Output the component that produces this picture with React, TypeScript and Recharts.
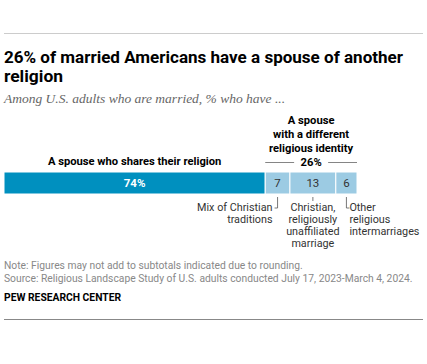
import React from 'react';
import { BarChart, Bar, XAxis, YAxis, LabelList, ReferenceArea } from 'recharts';

// ---- data ----
const categories = ['Married U.S. adults'];
const sameReligion = [74];
const mixChristian = [7];
const christianUnaffiliated = [13];
const otherReligious = [6];
const differentTotal = [26];

const headerSame = 'A spouse who shares their religion';
const headerDifferent = ['A spouse', 'with a different', 'religious identity'];
const labelMix = ['Mix of Christian', 'traditions'];
const labelUnaff = ['Christian,', 'religiously', 'unaffiliated', 'marriage'];
const labelOther = ['Other', 'religious', 'intermarriages'];

const data = categories.map((c, i) => ({
  category: c,
  same: sameReligion[i],
  mix: mixChristian[i],
  unaff: christianUnaffiliated[i],
  other: otherReligious[i],
}));

const DARK = '#0090bf';
const LIGHT = '#9ccbe3';
const FONT = "Roboto, 'Liberation Sans', Arial, sans-serif";
const TXT = '#333';
const HFS = 11.2;
const NFS = 10.8;

const num = (v: any) => Number(v);

const SameLabel = (props: any) => {
  const { x, y, width, height, value } = props;
  const cx = num(x) + num(width) / 2;
  return (
    <g>
      <text x={cx} y={num(y) - 7} textAnchor="middle" fontFamily={FONT} fontWeight={700} fontSize={HFS} fill="#000">
        {headerSame}
      </text>
      <text x={cx} y={num(y) + num(height) / 2 + 4} textAnchor="middle" fontFamily={FONT} fontWeight={700} fontSize={11.5} fill="#fff">
        {value}%
      </text>
    </g>
  );
};

const ValueLabel = (props: any) => {
  const { x, y, width, height, value } = props;
  return (
    <text x={num(x) + num(width) / 2} y={num(y) + num(height) / 2 + 4} textAnchor="middle" fontFamily={FONT} fontSize={11.5} fill={TXT}>
      {value}
    </text>
  );
};

const MixNote = (props: any) => {
  const { x, y, width, height } = props;
  const cx = num(x) + num(width) / 2;
  const b = num(y) + num(height);
  return (
    <g>
      <path d={`M${cx},${b + 3} L${cx},${b + 14} L${cx - 3},${b + 14}`} stroke="#555" strokeWidth={0.8} fill="none" />
      {labelMix.map((t, i) => (
        <text key={i} x={cx - 5} y={b + 17 + i * 12} textAnchor="end" fontFamily={FONT} fontSize={NFS} fill={TXT}>{t}</text>
      ))}
    </g>
  );
};

const UnaffNote = (props: any) => {
  const { x, y, width, height } = props;
  const cx = num(x) + num(width) / 2;
  const b = num(y) + num(height);
  return (
    <g>
      <path d={`M${cx},${b + 3} L${cx},${b + 7}`} stroke="#555" strokeWidth={0.8} fill="none" />
      {labelUnaff.map((t, i) => (
        <text key={i} x={cx} y={b + 17 + i * 12} textAnchor="middle" fontFamily={FONT} fontSize={NFS} fill={TXT}>{t}</text>
      ))}
    </g>
  );
};

const OtherNote = (props: any) => {
  const { x, y, width, height } = props;
  const cx = num(x) + num(width) / 2;
  const b = num(y) + num(height);
  return (
    <g>
      <path d={`M${cx},${b + 3} L${cx},${b + 14} L${cx + 3},${b + 14}`} stroke="#555" strokeWidth={0.8} fill="none" />
      {labelOther.map((t, i) => (
        <text key={i} x={cx + 3} y={b + 17 + i * 12} textAnchor="start" fontFamily={FONT} fontSize={NFS} fill={TXT}>{t}</text>
      ))}
    </g>
  );
};

const GroupHeader = (props: any) => {
  const vb = props.viewBox || {};
  const x = num(vb.x);
  const w = num(vb.width);
  const top = num(vb.y);
  const cx = x + w / 2;
  const lineY = top - 9.5;
  return (
    <g>
      {headerDifferent.map((t, i) => (
        <text key={i} x={cx} y={top - 48 + i * 14} textAnchor="middle" fontFamily={FONT} fontWeight={700} fontSize={HFS} fill="#000">{t}</text>
      ))}
      <text x={cx} y={top - 6} textAnchor="middle" fontFamily={FONT} fontWeight={700} fontSize={HFS} fill="#000">{differentTotal[0]}%</text>
      <line x1={x} x2={cx - 17} y1={lineY} y2={lineY} stroke="#666" strokeWidth={0.8} />
      <line x1={cx + 17} x2={x + w} y1={lineY} y2={lineY} stroke="#666" strokeWidth={0.8} />
    </g>
  );
};

export default function App() {
  return (
    <div style={{ position: 'absolute', left: 0, top: 0, width: 427, height: 364, background: '#fff' }}>
      <svg width={427} height={364} style={{ position: 'absolute', left: 0, top: 0 }}>
        <line x1={4} x2={423} y1={33.5} y2={33.5} stroke="#ccc" strokeWidth={1} />
        <text x={4} y={63} fontFamily={FONT} fontWeight={700} fontSize={16} fill="#000" textLength={399} lengthAdjust="spacingAndGlyphs">26% of married Americans have a spouse of another</text>
        <text x={4} y={82} fontFamily={FONT} fontWeight={700} fontSize={16} fill="#000" textLength={59} lengthAdjust="spacingAndGlyphs">religion</text>
        <text x={4} y={103} fontFamily="'Liberation Serif', Georgia, serif" fontStyle="italic" fontSize={13.5} fill="#666">Among U.S. adults who are married, % who have ...</text>
        <text x={4} y={269} fontFamily={FONT} fontSize={10.3} fill="#888">Note: Figures may not add to subtotals indicated due to rounding.</text>
        <text x={4} y={282} fontFamily={FONT} fontSize={10.3} fill="#888">Source: Religious Landscape Study of U.S. adults conducted July 17, 2023-March 4, 2024.</text>
        <text x={4} y={301} fontFamily={FONT} fontWeight={700} fontSize={10.3} fill="#000">PEW RESEARCH CENTER</text>
        <line x1={4} x2={423} y1={319.5} y2={319.5} stroke="#888" strokeWidth={1} />
      </svg>
      <div style={{ position: 'absolute', left: 0, top: 0 }}>
        <BarChart
          width={427}
          height={364}
          data={data}
          layout="vertical"
          margin={{ top: 172, bottom: 170, left: 4, right: 70 }}
          barCategoryGap={0}
          style={{ overflow: 'visible' }}
        >
          <XAxis type="number" domain={[0, 100]} hide />
          <YAxis type="category" dataKey="category" hide />
          <ReferenceArea x1={sameReligion[0]} x2={100} fillOpacity={0} strokeOpacity={0} ifOverflow="visible" label={<GroupHeader />} />
          <Bar dataKey="same" stackId="a" fill={DARK} stroke="#fff" strokeWidth={1} isAnimationActive={false}>
            <LabelList dataKey="same" content={<SameLabel />} />
          </Bar>
          <Bar dataKey="mix" stackId="a" fill={LIGHT} stroke="#fff" strokeWidth={1} isAnimationActive={false}>
            <LabelList dataKey="mix" content={<ValueLabel />} />
            <LabelList dataKey="mix" content={<MixNote />} />
          </Bar>
          <Bar dataKey="unaff" stackId="a" fill={LIGHT} stroke="#fff" strokeWidth={1} isAnimationActive={false}>
            <LabelList dataKey="unaff" content={<ValueLabel />} />
            <LabelList dataKey="unaff" content={<UnaffNote />} />
          </Bar>
          <Bar dataKey="other" stackId="a" fill={LIGHT} stroke="#fff" strokeWidth={1} isAnimationActive={false}>
            <LabelList dataKey="other" content={<ValueLabel />} />
            <LabelList dataKey="other" content={<OtherNote />} />
          </Bar>
        </BarChart>
      </div>
    </div>
  );
}
